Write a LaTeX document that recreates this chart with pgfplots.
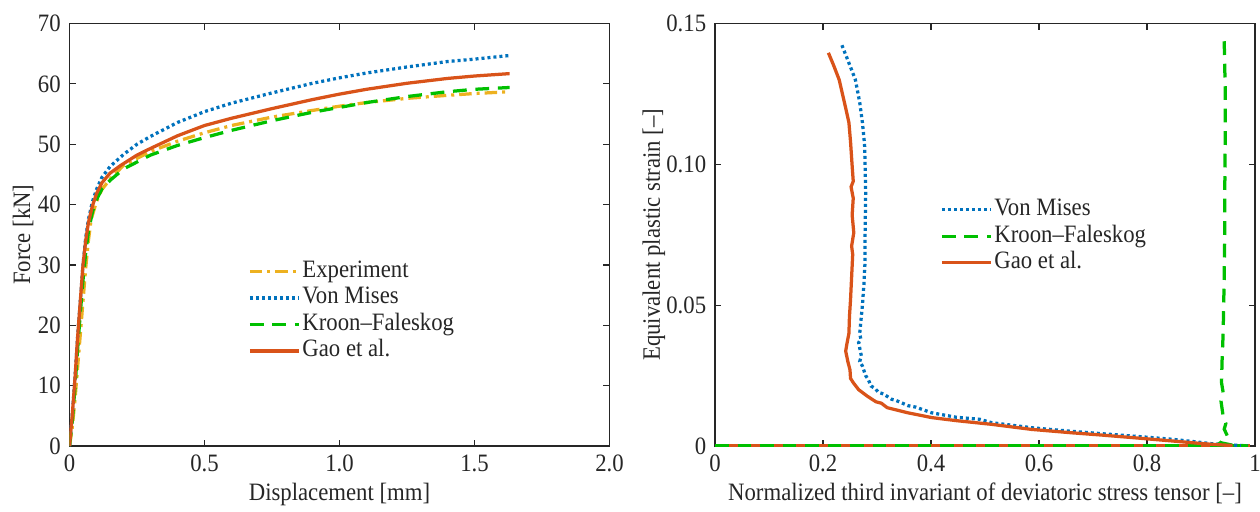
\documentclass[border=0pt]{standalone}
\usepackage{fontspec}
\setmainfont{Liberation Serif}[FakeStretch=0.91]
\usepackage{pgfplots}
\pgfplotsset{compat=1.18}

\definecolor{cexp}{HTML}{EDB120}
\definecolor{cvm}{HTML}{0072BD}
\definecolor{ckf}{HTML}{00C000}
\definecolor{cgao}{HTML}{D95319}
\definecolor{axgray}{HTML}{262626}

\newcommand{\myfont}{\fontsize{10}{12}\selectfont}

\pgfplotsset{
  panel/.style={
    scale only axis, width=216pt, height=169pt,
    axis line style={axgray, line width=0.5pt},
    tick style={axgray, line width=0.5pt},
    tick align=inside, major tick length=2.4pt,
    ticklabel style={font=\myfont, text=axgray},
    label style={font=\myfont, text=axgray},
    /pgf/number format/assume math mode=true,
    xlabel style={at={(axis description cs:0.5,-0.128)}, anchor=base},
    legend cell align=left,
    legend image code/.code={\draw[##1] (0pt,0pt) -- (19.6pt,0pt);},
    legend style={draw=none, fill=none, font=\myfont, text=axgray,
      inner sep=0pt, row sep=0.2pt,
      nodes={inner sep=0.8pt, text height=6.8pt, text depth=2pt}},
  },
  exps/.style={cexp, line width=1.3pt, dash pattern=on 5pt off 2pt on 1.2pt off 2pt},
  vms/.style={cvm, line width=1.3pt, dash pattern=on 1.2pt off 1.2pt},
  kfs/.style={ckf, line width=1.3pt, dash pattern=on 5.5pt off 3.5pt},
  gaos/.style={cgao, line width=1.3pt},
}

\begin{document}
\begin{tikzpicture}
\path[use as bounding box] (-27.8pt,-26pt) rectangle (476.2pt,178.4pt);

% --- left: force vs displacement
\begin{axis}[panel,
  xmin=0, xmax=2, ymin=0, ymax=70,
  xtick={0,0.5,1,1.5,2}, xticklabels={0,0.5,1.0,1.5,2.0},
  ytick={0,10,...,70}, yticklabels={0,10,20,30,40,50,60,70},
  xlabel={Displacement [mm]}, ylabel={Force [kN]},
  ylabel style={at={(axis description cs:-0.073,0.5)}, anchor=base},
  legend style={at={(0.33,0.445)}, anchor=north west},
]
\addplot[exps] coordinates {
 (0,0) (0.01,3) (0.02,7.5) (0.03,13) (0.04,18.5) (0.05,24) (0.06,29.5) (0.07,34)
 (0.08,37.5) (0.1,40.5) (0.12,42.5) (0.15,44.2) (0.2,46.5) (0.3,48.8) (0.4,50.5)
 (0.5,51.9) (0.6,53.1) (0.75,54.5) (0.9,55.6) (1.0,56.3) (1.1,56.9) (1.25,57.6)
 (1.4,58.1) (1.5,58.4) (1.63,58.7)
};
\addlegendentry{Experiment}
\addplot[vms] coordinates {
 (0,0) (0.01,5) (0.02,11) (0.03,18) (0.04,24) (0.05,30) (0.06,34.5) (0.07,37.5)
 (0.085,40.5) (0.1,42.5) (0.12,44.5) (0.15,46.3) (0.2,48.3) (0.25,50) (0.3,51.3)
 (0.4,53.6) (0.5,55.4) (0.6,56.8) (0.75,58.5) (0.9,60.1) (1.0,61.0) (1.1,61.8)
 (1.25,62.8) (1.4,63.7) (1.5,64.1) (1.63,64.7)
};
\addlegendentry{Von Mises}
\addplot[kfs] coordinates {
 (0,0) (0.01,4) (0.02,9.5) (0.03,16) (0.04,22) (0.05,27.5) (0.06,32) (0.07,35.5)
 (0.085,38.8) (0.1,40.8) (0.12,42.6) (0.15,44) (0.2,45.9) (0.3,48.2) (0.4,49.8)
 (0.5,51.1) (0.6,52.3) (0.75,53.9) (0.9,55.3) (1.0,56.1) (1.1,56.9) (1.25,57.9)
 (1.4,58.7) (1.5,59.1) (1.63,59.4)
};
\addlegendentry{Kroon–Faleskog}
\addplot[gaos] coordinates {
 (0,0) (0.01,5) (0.02,11) (0.03,18) (0.04,24) (0.05,30) (0.06,34) (0.07,37)
 (0.085,39.8) (0.1,41.8) (0.12,43.6) (0.15,45.2) (0.19,46.5) (0.25,48.2) (0.3,49.3)
 (0.4,51.4) (0.5,53.1) (0.6,54.3) (0.75,55.9) (0.9,57.4) (1.0,58.3) (1.1,59.1)
 (1.25,60.1) (1.4,60.9) (1.5,61.3) (1.63,61.7)
};
\addlegendentry{Gao et al.}
\end{axis}

% --- right: plastic strain vs normalized third invariant
\begin{axis}[panel, xshift=258.2pt,
  xmin=0, xmax=1, ymin=0, ymax=0.15,
  xtick={0,0.2,0.4,0.6,0.8,1}, xticklabels={0,0.2,0.4,0.6,0.8,1},
  ytick={0,0.05,0.1,0.15}, yticklabels={0,0.05,0.10,0.15},
  scaled y ticks=false,
  xlabel={Normalized third invariant of deviatoric stress tensor [–]},
  ylabel={Equivalent plastic strain [–]},
  ylabel style={at={(axis description cs:-0.102,0.5)}, anchor=base},
  legend style={at={(0.416,0.591)}, anchor=north west},
]
% initial states (zero strain) along the bottom
\addplot[vms, forget plot] coordinates {(0,0) (0.99,0)};
\addplot[gaos, forget plot] coordinates {(0,0) (0.99,0)};
\addplot[kfs, forget plot] coordinates {(0,0) (0.99,0)};

\addplot[vms] coordinates {
 (0.235,0.1423) (0.248,0.136) (0.260,0.130) (0.268,0.122) (0.273,0.1148) (0.277,0.107)
 (0.278,0.0994) (0.279,0.090) (0.278,0.0757) (0.278,0.066) (0.276,0.058) (0.273,0.050)
 (0.271,0.046) (0.268,0.040) (0.270,0.038) (0.266,0.0367) (0.271,0.032) (0.268,0.030)
 (0.273,0.0284) (0.279,0.025) (0.284,0.0235) (0.289,0.0213) (0.296,0.0205) (0.303,0.019)
 (0.312,0.0185) (0.327,0.0166) (0.335,0.0162) (0.358,0.0143) (0.372,0.0138)
 (0.401,0.0118) (0.447,0.0102) (0.49,0.0095) (0.512,0.0083) (0.586,0.0065)
 (0.655,0.0053) (0.735,0.0041) (0.795,0.0032) (0.846,0.0024) (0.894,0.0014)
 (0.92,0.0008) (0.953,0.0004) (0.987,0.0001)
};
\addlegendentry{Von Mises}
\addplot[kfs] coordinates {
 (0.943,0.1437) (0.945,0.125) (0.945,0.111) (0.944,0.090) (0.944,0.0757) (0.943,0.060)
 (0.941,0.040) (0.939,0.030) (0.938,0.0225) (0.941,0.019) (0.937,0.016) (0.941,0.0106)
 (0.946,0.008) (0.943,0.006) (0.949,0.0035) (0.940,0.0018) (0.936,0.0012)
 (0.958,0.0003) (0.987,0.0)
};
\addlegendentry{Kroon–Faleskog}
\addplot[gaos] coordinates {
 (0.210,0.1396) (0.220,0.135) (0.226,0.132) (0.230,0.130) (0.236,0.125) (0.242,0.120)
 (0.248,0.1148) (0.251,0.108) (0.254,0.0994) (0.256,0.094) (0.252,0.092) (0.256,0.088)
 (0.254,0.082) (0.257,0.0757) (0.253,0.071) (0.255,0.068) (0.253,0.060) (0.251,0.052)
 (0.249,0.046) (0.248,0.040) (0.244,0.036) (0.242,0.0337) (0.246,0.030) (0.250,0.027)
 (0.251,0.024) (0.256,0.0225) (0.266,0.020) (0.282,0.0177) (0.298,0.0157)
 (0.308,0.0152) (0.319,0.0136) (0.357,0.0118) (0.401,0.0101) (0.447,0.0090)
 (0.512,0.0077) (0.586,0.0059) (0.660,0.0047) (0.715,0.0039) (0.772,0.0030)
 (0.846,0.0018) (0.894,0.0010) (0.92,0.0006) (0.957,0.0002)
};
\addlegendentry{Gao et al.}
\end{axis}
\end{tikzpicture}
\end{document}
